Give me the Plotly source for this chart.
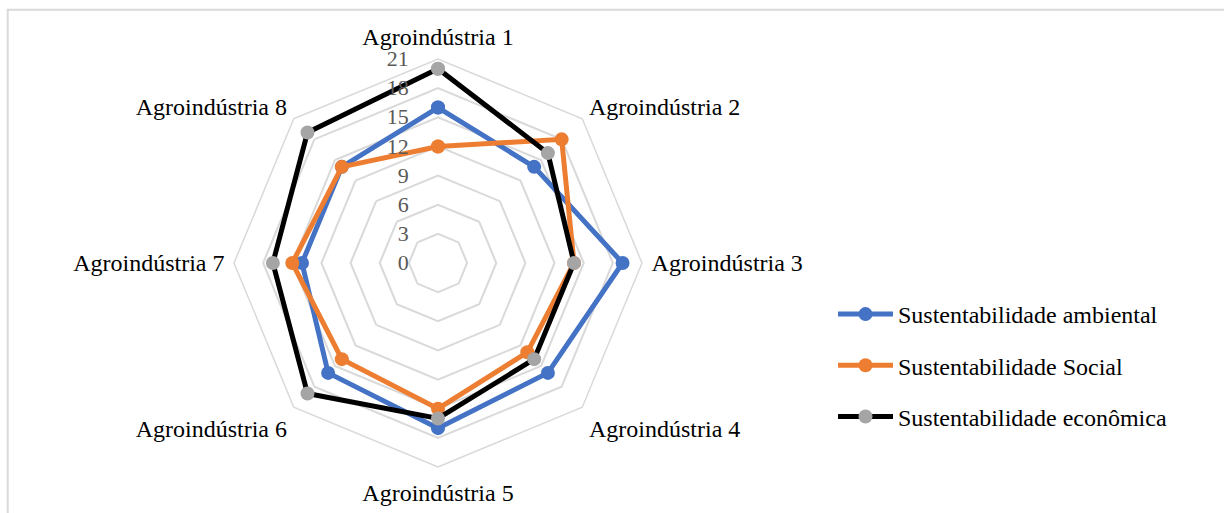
import plotly.graph_objects as go

# Índices de sustentabilidade por agroindústria
categorias = [f"Agroindústria {i}" for i in range(1, 9)]
ambiental = [16, 14, 19, 16, 17, 16, 14, 14]
social = [12, 18, 14, 13, 15, 14, 15, 14]
economica = [20, 16, 14, 14, 16, 19, 17, 19]
ticks_radiais = [0, 3, 6, 9, 12, 15, 18, 21]

W, H = 1224, 513
FONTE = "Liberation Serif, Times New Roman, serif"

series = [
    ("Sustentabilidade ambiental", ambiental, "#4472C4", "#4472C4"),
    ("Sustentabilidade Social", social, "#ED7D31", "#ED7D31"),
    ("Sustentabilidade econômica", economica, "#000000", "#A5A5A5"),
]

fig = go.Figure()
for i, (nome, valores, cor_linha, cor_marcador) in enumerate(series):
    fig.add_trace(go.Scatterpolar(
        r=valores + valores[:1],
        theta=categorias + categorias[:1],
        mode="lines+markers",
        name=nome,
        legendgroup=f"g{i}",
        line=dict(color=cor_linha, width=5),
        marker=dict(color=cor_marcador, size=14, line=dict(width=0)),
        cliponaxis=False,
    ))

# Área polar: centro ~(438, 263), raio ~204 px
cx, cy, R = 438, 263, 204
fig.update_layout(
    width=W, height=H,
    margin=dict(l=0, r=0, t=0, b=0),
    paper_bgcolor="white",
    plot_bgcolor="white",
    font=dict(family=FONTE, size=24, color="#000000"),
    polar=dict(
        domain=dict(x=[(cx - R) / W, (cx + R) / W],
                    y=[(H - cy - R) / H, (H - cy + R) / H]),
        bgcolor="white",
        gridshape="linear",
        radialaxis=dict(
            range=[0, 21],
            tickvals=ticks_radiais,
            angle=90,
            tickangle=90,
            side="counterclockwise",
            showline=False,
            # marcas transparentes afastam os rótulos do eixo
            ticks="outside",
            ticklen=21,
            tickcolor="rgba(0,0,0,0)",
            gridcolor="#D9D9D9",
            gridwidth=1.5,
            tickfont=dict(family=FONTE, size=22, color="#595959"),
        ),
        angularaxis=dict(
            direction="clockwise",
            rotation=90,
            showgrid=False,
            ticks="outside",
            ticklen=4,
            tickcolor="rgba(0,0,0,0)",
            linecolor="#D9D9D9",
            linewidth=1.5,
            tickfont=dict(family=FONTE, size=24, color="#000000"),
        ),
    ),
    legend=dict(
        x=833 / W, y=(H - 292) / H,
        xanchor="left", yanchor="top",
        traceorder="grouped",
        tracegroupgap=17,
        itemwidth=55,
        font=dict(family=FONTE, size=24, color="#000000"),
        bgcolor="rgba(0,0,0,0)",
    ),
    shapes=[dict(
        type="rect", xref="paper", yref="paper",
        x0=7.7 / W, x1=1.02, y0=-0.05, y1=1 - 9.8 / H,
        line=dict(color="#D9D9D9", width=2),
        fillcolor="rgba(0,0,0,0)",
        layer="below",
    )],
)

fig.write_html("out.html")
